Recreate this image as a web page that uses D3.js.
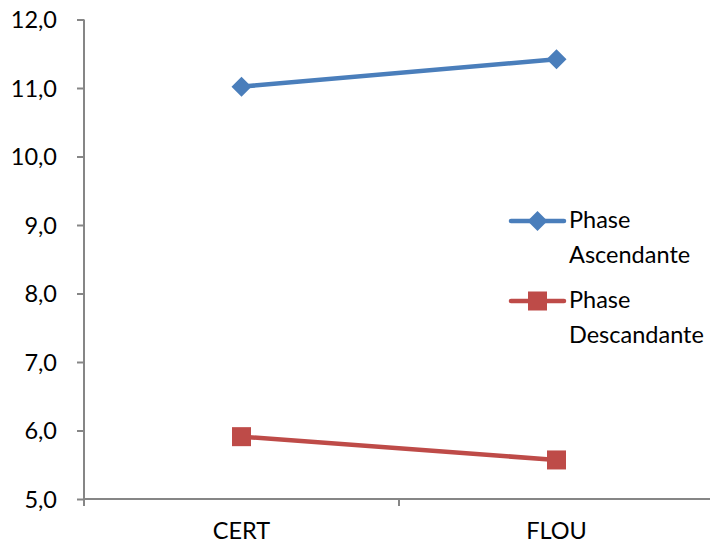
<!DOCTYPE html>
<html><head><meta charset="utf-8">
<script src="https://cdn.jsdelivr.net/npm/d3@7"></script>
<style>body{margin:0;background:#fff}svg{display:block}text{font-family:Lato,"Open Sans",sans-serif;fill:#000}</style>
</head><body>
<script>
const categories = ["CERT", "FLOU"];
const seriesNames = ["Phase Ascendante", "Phase Descandante"];
const ascendante = [11.02, 11.42];
const descandante = [5.91, 5.57];
const yTicks = [5, 6, 7, 8, 9, 10, 11, 12];

const W = 710, H = 546;
const FS = 23.5;
const FONT = "Lato,'Open Sans',sans-serif";
const svg = d3.select("body").append("svg").attr("width", W).attr("height", H);
const x = d3.scaleBand().domain(categories).range([84, 714]);
const y = d3.scaleLinear().domain([5, 12]).range([499, 19.5]);
const axisColor = "#868686";
const fmt = d => d.toFixed(1).replace(".", ",");

// Y axis
const ya = svg.append("g").attr("transform", "translate(84,0)")
  .call(d3.axisLeft(y).tickValues(yTicks).tickFormat(fmt).tickSize(7).tickPadding(20));
ya.select(".domain").attr("stroke", axisColor).attr("stroke-width", 2).attr("d", `M0,${y(12)}V${y(5)}`);
ya.selectAll(".tick line").attr("stroke", axisColor).attr("stroke-width", 2);
ya.selectAll(".tick text").attr("font-size", FS).attr("font-family", FONT).attr("fill", "#000").attr("dy", "0.36em");

// X axis
const xa = svg.append("g").attr("transform", `translate(0,${y(5)})`)
  .call(d3.axisBottom(x).tickSize(0).tickPadding(23));
xa.select(".domain").attr("stroke", axisColor).attr("stroke-width", 2).attr("d", `M84,0H714`);
xa.selectAll(".tick text").attr("font-size", FS).attr("font-family", FONT).attr("fill", "#000");
const bounds = [84, ...categories.map(c => x(c) + x.bandwidth())];
xa.selectAll(".btick").data(bounds).enter().append("line").attr("class", "btick")
  .attr("x1", d => d).attr("x2", d => d).attr("y1", 0).attr("y2", 7)
  .attr("stroke", axisColor).attr("stroke-width", 2);

const cx = c => x(c) + x.bandwidth() / 2;
const series = [
  {name: seriesNames[0], values: ascendante, color: "#4a7ebb", marker: "diamond"},
  {name: seriesNames[1], values: descandante, color: "#be4b48", marker: "square"}
];
const line = d3.line().x((d, i) => cx(categories[i])).y(d => y(d));
function marker(g, type, color, px, py) {
  if (type === "diamond") {
    g.append("path").attr("d", `M${px},${py-10}L${px+10},${py}L${px},${py+10}L${px-10},${py}Z`).attr("fill", color);
  } else {
    g.append("rect").attr("x", px - 9.5).attr("y", py - 9.5).attr("width", 19).attr("height", 19).attr("fill", color);
  }
}
series.forEach(s => {
  const g = svg.append("g");
  g.append("path").attr("d", line(s.values)).attr("fill", "none").attr("stroke", s.color)
    .attr("stroke-width", 4.5).attr("stroke-linecap", "round");
  s.values.forEach((v, i) => marker(g, s.marker, s.color, cx(categories[i]), y(v)));
});

// Legend
const legY = [221, 301];
series.forEach((s, i) => {
  const g = svg.append("g");
  const ly = legY[i];
  g.append("line").attr("x1", 511).attr("x2", 564).attr("y1", ly).attr("y2", ly)
    .attr("stroke", s.color).attr("stroke-width", 4.5).attr("stroke-linecap", "round");
  marker(g, s.marker, s.color, 537.5, ly);
  const parts = s.name.split(" ");
  const t = g.append("text").attr("x", 569).attr("y", ly + 7.3).attr("font-size", FS).attr("font-family", FONT);
  t.append("tspan").attr("x", 569).text(parts[0]);
  t.append("tspan").attr("x", 569).attr("dy", 34.4).text(parts[1]);
});
</script>
</body></html>
